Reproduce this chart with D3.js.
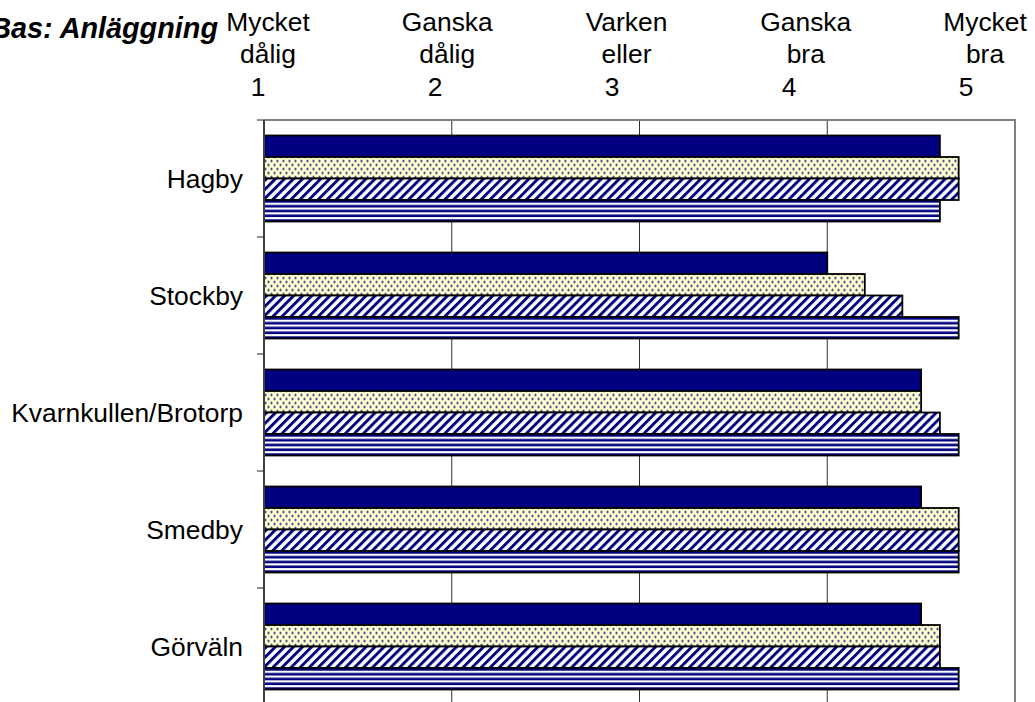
<!DOCTYPE html>
<html><head><meta charset="utf-8">
<script src="https://cdn.jsdelivr.net/npm/d3@7"></script>
<style>body{margin:0;background:#fff;} svg{display:block;font-family:"Liberation Sans",Arial,sans-serif;}</style>
</head><body>
<script>
const categories = ["Hagby","Stockby","Kvarnkullen/Brotorp","Smedby","Görväln"];
const seriesNames = ["S1","S2","S3","S4"];
const s1 = [4.6, 4.0, 4.5, 4.5, 4.5];
const s2 = [4.7, 4.2, 4.5, 4.7, 4.6];
const s3 = [4.7, 4.4, 4.6, 4.7, 4.6];
const s4 = [4.6, 4.7, 4.7, 4.7, 4.7];
const scaleWords = [["Mycket","dålig"],["Ganska","dålig"],["Varken","eller"],["Ganska","bra"],["Mycket","bra"]];
const scaleNums = ["1","2","3","4","5"];
const titleText = "Bas: Anläggning";
const gridValues = [2,3,4];

const W = 1035, H = 702;
const L = 264, R = 1015, T = 120, B = 705;
const svg = d3.select("body").append("svg").attr("width",W).attr("height",H);
const defs = svg.append("defs");
const navy = "#000080";

// patterns
const pDot = defs.append("pattern").attr("id","dots").attr("patternUnits","userSpaceOnUse").attr("width",6).attr("height",8);
pDot.append("rect").attr("width",6).attr("height",8).attr("fill","#FFFFCC");
pDot.append("circle").attr("cx",1.5).attr("cy",1.5).attr("r",1.1).attr("fill",navy);
pDot.append("circle").attr("cx",4.5).attr("cy",5.5).attr("r",1.1).attr("fill",navy);

const pHatch = defs.append("pattern").attr("id","hatch").attr("patternUnits","userSpaceOnUse").attr("width",6.4).attr("height",6.4).attr("patternTransform","rotate(45)");
pHatch.append("rect").attr("width",6.4).attr("height",6.4).attr("fill","#fff");
pHatch.append("rect").attr("width",2.9).attr("height",6.4).attr("fill",navy);

const pStripe = defs.append("pattern").attr("id","stripes").attr("patternUnits","userSpaceOnUse").attr("width",4).attr("height",4.8);
pStripe.append("rect").attr("width",4).attr("height",4.8).attr("fill","#fff");
pStripe.append("rect").attr("y",2.2).attr("width",4).attr("height",2.6).attr("fill",navy);

const fills = [navy, "url(#dots)", "url(#hatch)", "url(#stripes)"];
const allSeries = [s1,s2,s3,s4];

const x = d3.scaleLinear().domain([1,5]).range([L,R]);
const y0 = d3.scaleBand().domain(categories).range([T,B]).paddingInner(0.265).paddingOuter(0.1325);
const y1 = d3.scaleBand().domain(seriesNames).range([0,y0.bandwidth()]);

// gridlines
svg.append("g").selectAll("line").data(gridValues).join("line")
  .attr("x1",d=>x(d)).attr("x2",d=>x(d)).attr("y1",T).attr("y2",B)
  .attr("stroke","#303030").attr("stroke-width",1);

// plot border top and right
svg.append("path").attr("d",`M${L},${T}H${R}V${B}`).attr("fill","none").attr("stroke","#808080").attr("stroke-width",2);

// bars
const groups = svg.append("g").selectAll("g").data(categories).join("g")
  .attr("transform",d=>`translate(0,${y0(d)})`);
groups.selectAll("rect").data((c,i)=>allSeries.map((s,j)=>({s:seriesNames[j],v:s[i],j}))).join("rect")
  .attr("x",x(1)).attr("y",d=>y1(d.s)).attr("height",y1.bandwidth())
  .attr("width",d=>x(d.v)-x(1)).attr("fill",d=>fills[d.j])
  .attr("stroke","#000").attr("stroke-width",1.8);

// left axis
svg.append("line").attr("x1",L).attr("x2",L).attr("y1",T).attr("y2",B).attr("stroke","#404040").attr("stroke-width",2);
svg.append("g").selectAll("line").data(categories.map((c,i)=>T+i*y0.step()).concat([B])).join("line")
  .attr("x1",L-7).attr("x2",L).attr("y1",d=>d).attr("y2",d=>d).attr("stroke","#202020").attr("stroke-width",1);

// category labels
svg.append("g").selectAll("text").data(categories).join("text")
  .attr("x",243).attr("y",d=>y0(d)-y0.step()*y0.paddingOuter()+y0.step()/2+9)
  .attr("text-anchor","end").attr("font-size",26.4).attr("fill","#000").text(d=>d);

// top scale labels
const xw = d3.scalePoint().domain(scaleNums).range([268,985]);
const xn = d3.scalePoint().domain(scaleNums).range([258,966]);
const topG = svg.append("g").attr("font-size",26.4).attr("fill","#000").attr("text-anchor","middle");
scaleNums.forEach((n,i)=>{
  topG.append("text").attr("x",xw(n)).attr("y",31).text(scaleWords[i][0]);
  topG.append("text").attr("x",xw(n)).attr("y",63).text(scaleWords[i][1]);
  topG.append("text").attr("x",xn(n)).attr("y",96).text(n);
});

// title
svg.append("text").attr("x",218).attr("y",38).attr("text-anchor","end")
  .attr("font-size",28.8).attr("font-weight","bold").attr("font-style","italic").text(titleText);
</script>
</body></html>
